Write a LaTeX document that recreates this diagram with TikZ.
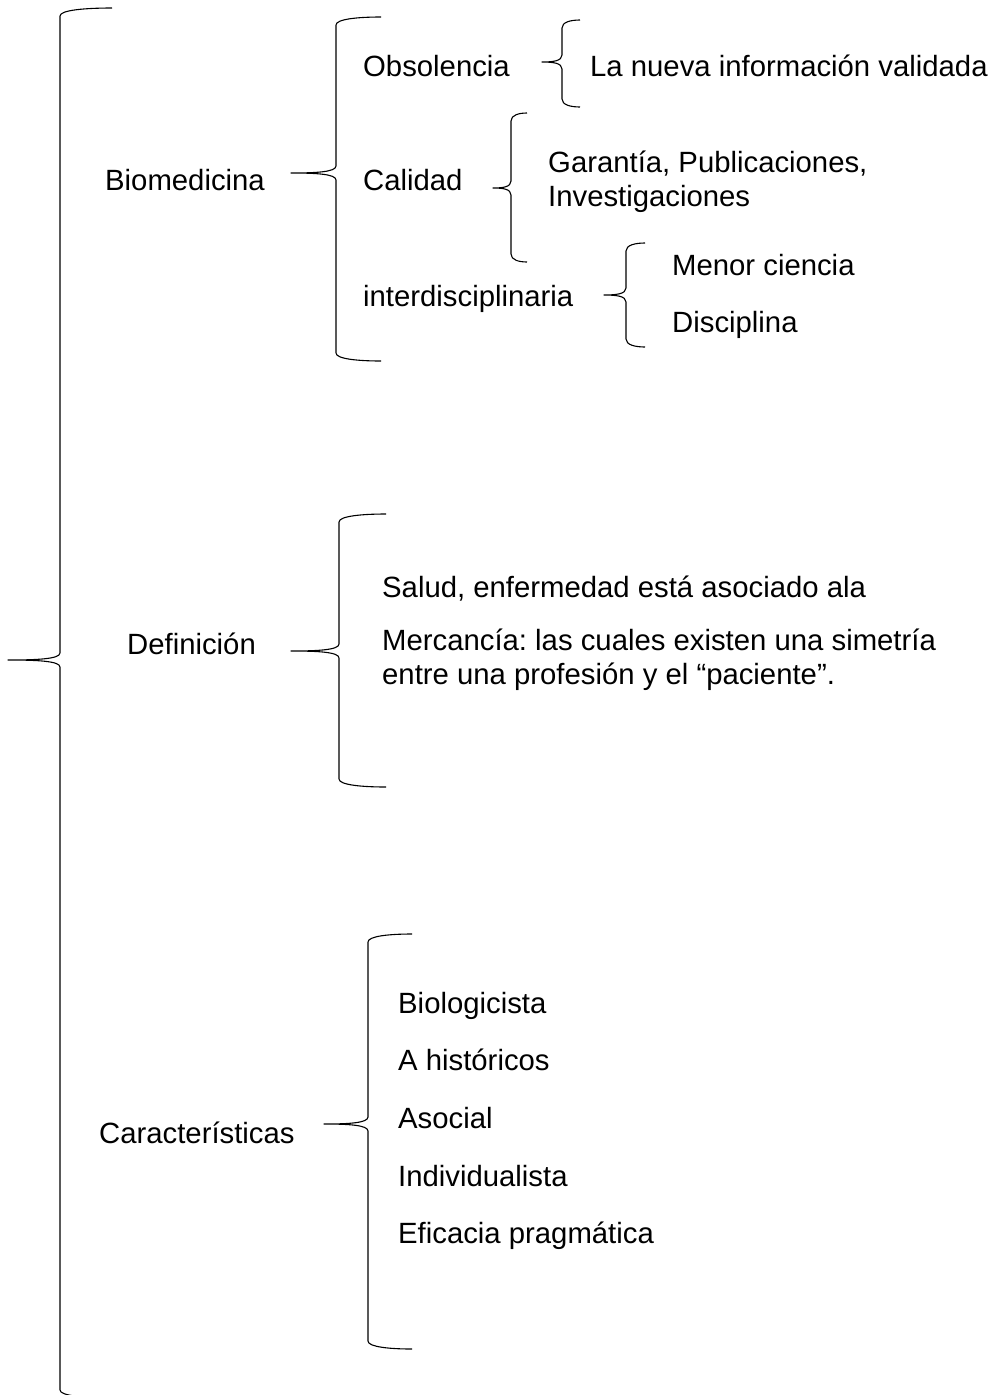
\documentclass[tikz,border=0pt]{standalone}
\usepackage{fontspec}
\setmainfont{Liberation Sans}
\frenchspacing
\tikzset{
  lbl/.style={anchor=base west, inner sep=0pt, font=\fontsize{29.3}{34}\selectfont},
  braceline/.style={draw=black, line width=1.1pt, line join=round}
}
% #1 end x, #2 vertical x, #3 tip x, #4 top y, #5 tip y, #6 bottom y
\newcommand\curlybr[6]{%
  \draw[braceline] (#1,#4) .. controls ({#2+0.5*(#1-#2)},#4) and (#2,{#4+2}) .. (#2,{#4+8})
    -- (#2,{#5-7}) .. controls (#2,{#5-1}) and ({#2-0.45*(#2-#3)},#5) .. (#3,#5)
    .. controls ({#2-0.45*(#2-#3)},#5) and (#2,{#5+1}) .. (#2,{#5+7})
    -- (#2,{#6-8}) .. controls (#2,{#6-2}) and ({#2+0.5*(#1-#2)},#6) .. (#1,#6);}
\begin{document}
\begin{tikzpicture}[x=1pt,y=-1pt]
\clip (0,0) rectangle (991,1395);
\fill[white] (0,0) rectangle (991,1395);
% braces
\curlybr{112}{60}{8}{8}{660}{1398}
\curlybr{381}{336}{291}{17}{173}{361}
\curlybr{580}{562}{542}{20}{62}{107}
\curlybr{527}{511}{493}{113}{188}{262}
\curlybr{645}{626}{604}{243}{295}{347}
\curlybr{386}{339}{291}{514}{651}{787}
\curlybr{412}{368}{324}{934}{1124}{1349}
% texts
\node[lbl] (bio) at (105,190) {Biomedicina};
\node[lbl] (obs) at (363,76) {Obsolencia};
\node[lbl] (nueva) at (590,76) {La nueva información validada};
\node[lbl] (cal) at (363,190) {Calidad};
\node[lbl] (gar1) at (548,172) {Garantía, Publicaciones,};
\node[lbl] (gar2) at (548,206) {Investigaciones};
\node[lbl] (inter) at (363,306) {interdisciplinaria};
\node[lbl] (menor) at (672,275) {Menor ciencia};
\node[lbl] (disc) at (672,332) {Disciplina};
\node[lbl] (defi) at (127,654) {Definición};
\node[lbl] (salud) at (382,597) {Salud, enfermedad está asociado ala};
\node[lbl] (merc1) at (382,650) {Mercancía: las cuales existen una simetría};
\node[lbl] (merc2) at (382,684) {entre una profesión y el “paciente”.};
\node[lbl] (car) at (99,1143) {Características};
\node[lbl] (it1) at (398,1013) {Biologicista};
\node[lbl] (it2) at (398,1070) {A históricos};
\node[lbl] (it3) at (398,1128) {Asocial};
\node[lbl] (it4) at (398,1186) {Individualista};
\node[lbl] (it5) at (398,1243) {Eficacia pragmática};
\end{tikzpicture}
\end{document}
